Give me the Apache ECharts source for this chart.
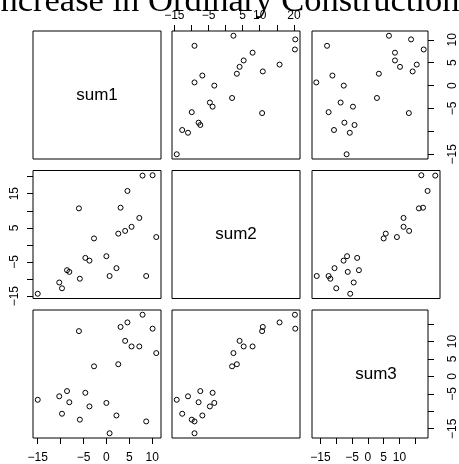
<!DOCTYPE html>
<html>
<head>
<meta charset="utf-8">
<script src="https://cdn.jsdelivr.net/npm/echarts@6/dist/echarts.min.js"></script>
<style>html,body{margin:0;padding:0;background:#fff}#c{width:459px;height:464px}</style>
</head>
<body>
<div id="c"></div>
<script>
// ---- data ----
const varNames = ['sum1', 'sum2', 'sum3'];
const sum1 = [-15, -10.3, -9.7, -8.6, -8.1, -6.0, -5.8, -4.6, -3.7, -2.7, 0.0, 0.7, 2.2, 2.6, 3.1, 4.1, 4.6, 5.5, 7.2, 7.9, 8.7, 10.1, 10.9];
const sum2 = [-14.3, -11.0, -12.7, -7.4, -7.9, 10.7, -9.9, -3.8, -4.6, 1.9, -3.3, -9.1, -6.8, 3.3, 10.9, 4.1, 15.8, 5.3, 7.9, 20.3, -9.1, 20.4, 2.3];
const sum3 = [-6.7, -5.7, -10.7, -4.2, -7.4, 13.0, -12.4, -4.7, -8.6, 2.9, -7.6, -16.3, -11.2, 3.5, 14.2, 10.2, 15.5, 8.6, 8.6, 17.7, -12.9, 13.7, 6.7];
const titleText = 'Increase in Ordinary Construction';
// tick positions per variable
const ticks1 = [-15, -10, -5, 0, 5, 10];
const ticks2 = [-15, -10, -5, 0, 5, 10, 15, 20];
const ticks3 = [-15, -10, -5, 0, 5, 10, 15];
// labelled ticks per axis side
const labels1Bottom = [-15, -5, 0, 5, 10];
const labels1Right = [-15, -5, 0, 5, 10];
const labels2Top = [-15, -5, 5, 10, 20];
const labels2Left = [-15, -5, 5, 15];
const labels3Bottom = [-15, -5, 0, 5, 10];
const labels3Right = [-15, -5, 0, 5, 10];

const vals = [sum1, sum2, sum3];
const tickSets = [ticks1, ticks2, ticks3];

// ---- layout ----
const colLeft = [33, 172, 312];
const rowTop = [31, 170.5, 310];
const W = 128, H = 128;

function range(arr) {
  const mn = Math.min(...arr), mx = Math.max(...arr);
  const pad = (mx - mn) * 0.04;
  return [mn - pad, mx + pad];
}
const ranges = vals.map(range);
const fmt = v => String(v).replace('-', '\u2212');

const grids = [], xAxes = [], yAxes = [], series = [], graphics = [];
const labelStyle = { color: '#000', fontSize: 12, fontFamily: 'Liberation Sans, Arial, sans-serif', formatter: fmt };
const marginFor = { top: 9, bottom: 14, left: 12, right: 19 };

let gi = 0;
for (let r = 0; r < 3; r++) {
  for (let c = 0; c < 3; c++) {
    grids.push({ left: colLeft[c], top: rowTop[r], width: W, height: H, show: true, borderColor: '#000', borderWidth: 1, backgroundColor: 'transparent' });
    let xPos = null, xLabels = null;
    if (r === 0 && c === 1) { xPos = 'top'; xLabels = labels2Top; }
    if (r === 2 && c === 0) { xPos = 'bottom'; xLabels = labels1Bottom; }
    if (r === 2 && c === 2) { xPos = 'bottom'; xLabels = labels3Bottom; }
    let yPos = null, yLabels = null;
    if (r === 1 && c === 0) { yPos = 'left'; yLabels = labels2Left; }
    if (r === 0 && c === 2) { yPos = 'right'; yLabels = labels1Right; }
    if (r === 2 && c === 2) { yPos = 'right'; yLabels = labels3Right; }
    xAxes.push({
      type: 'value', gridIndex: gi, min: ranges[c][0], max: ranges[c][1],
      position: xPos || 'bottom',
      axisLine: { show: false, onZero: false }, splitLine: { show: false },
      axisTick: { show: !!xPos, length: 6, inside: false, lineStyle: { color: '#000', width: 1 }, customValues: tickSets[c] },
      axisLabel: Object.assign({}, labelStyle, { show: !!xPos, customValues: xLabels || [], margin: marginFor[xPos || 'bottom'] })
    });
    yAxes.push({
      type: 'value', gridIndex: gi, min: ranges[r][0], max: ranges[r][1],
      position: yPos || 'left',
      axisLine: { show: false, onZero: false }, splitLine: { show: false },
      axisTick: { show: !!yPos, length: 6, inside: false, lineStyle: { color: '#000', width: 1 }, customValues: tickSets[r] },
      axisLabel: Object.assign({}, labelStyle, { show: !!yPos, rotate: 90, customValues: yLabels || [], margin: marginFor[yPos || 'left'] })
    });
    if (r !== c) {
      const xs = vals[c], ys = vals[r];
      series.push({
        type: 'scatter', xAxisIndex: gi, yAxisIndex: gi,
        data: xs.map((x, i) => [x, ys[i]]),
        symbol: 'circle', symbolSize: 5,
        itemStyle: { color: 'rgba(0,0,0,0)', borderColor: '#000', borderWidth: 1, opacity: 1 },
        silent: true, animation: false
      });
    } else {
      graphics.push({
        type: 'text',
        style: { x: colLeft[c] + W / 2, y: rowTop[r] + H / 2, text: varNames[r], font: '17px "Liberation Sans", Arial, sans-serif', fill: '#000', textAlign: 'center', textVerticalAlign: 'middle' }
      });
    }
    gi++;
  }
}
graphics.push({
  type: 'text',
  style: { x: -11, y: 2, text: titleText, font: '34.5px "Liberation Serif", "Times New Roman", serif', fill: '#000', textAlign: 'left', textVerticalAlign: 'middle' }
});

const chart = echarts.init(document.getElementById('c'), null, { renderer: 'canvas' });
chart.setOption({
  animation: false,
  backgroundColor: '#fff',
  grid: grids, xAxis: xAxes, yAxis: yAxes, series: series, graphic: graphics
});
</script>
</body>
</html>
